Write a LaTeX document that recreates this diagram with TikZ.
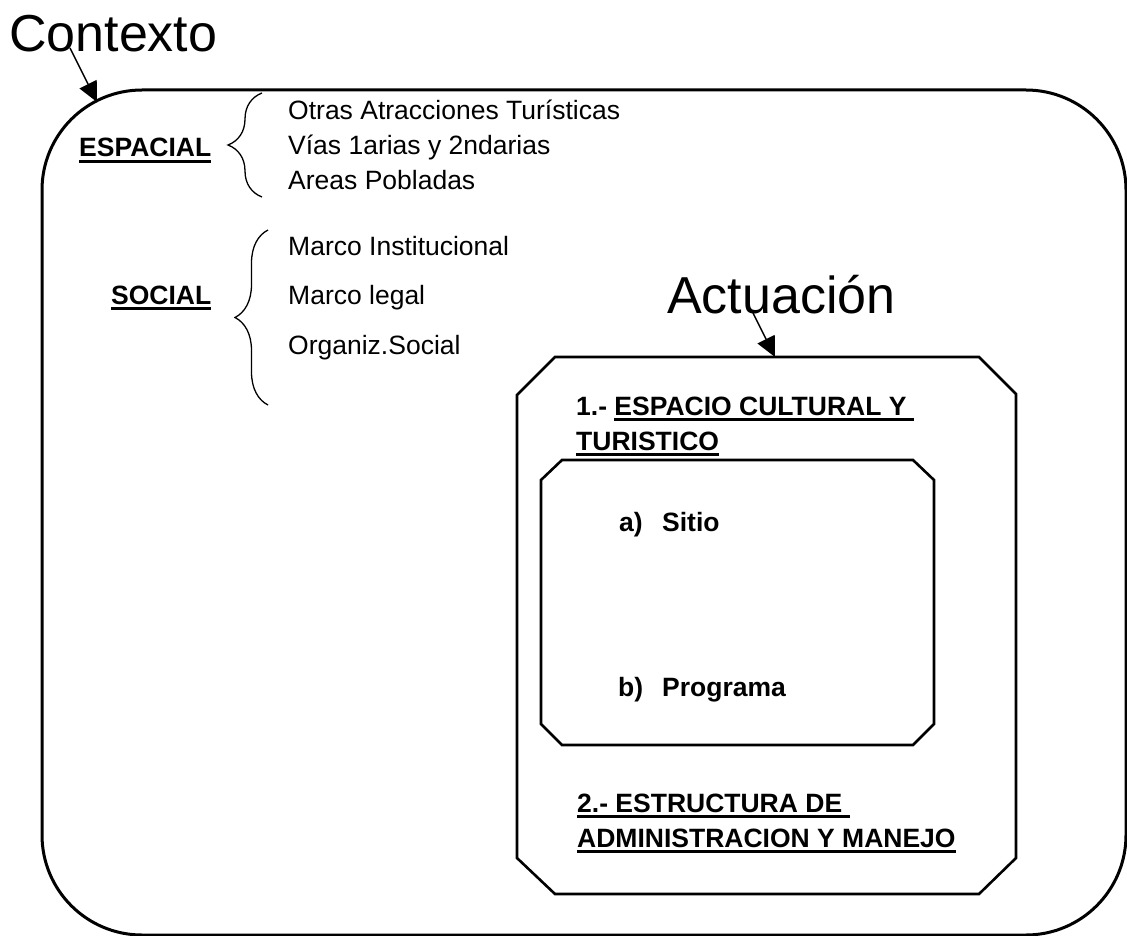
\documentclass[tikz,border=0pt]{standalone}
\usepackage{fontspec}
\setmainfont{Liberation Sans}
\usetikzlibrary{arrows.meta,decorations.pathreplacing}
\newcommand{\ulined}[1]{\leavevmode\vtop{\hbox{#1}\kern3pt\hrule height 2.6pt}}
\tikzset{
  big/.style={font=\fontsize{52}{60}\selectfont, inner sep=0pt, anchor=base west},
  txt/.style={font=\fontsize{26.5}{35}\selectfont, inner sep=0pt, anchor=base west},
  bld/.style={txt, font=\fontsize{26.5}{35}\selectfont\bfseries},
  ptr/.style={line width=1.5pt, -{Triangle[length=20pt,width=19pt]}},
  brc/.style={line width=1.3pt, decorate, decoration={brace, amplitude=#1}},
  brc/.default=34pt,
  octa/.style={line width=2.6pt, line join=miter}
}

\begin{document}
\begin{tikzpicture}[x=1pt,y=-1pt]
  \useasboundingbox (0,0) rectangle (1127,936);

  % Contexto
  \draw[line width=3pt, rounded corners=100pt] (42,90) rectangle (1126,935);
  \node[big] (ctx) at (9,52) {Contexto};
  \coordinate (ctxtail) at (70,48);
  \coordinate (ctxtip) at (97,102);
  \draw[ptr] (ctxtail) -- (ctxtip);

  % espacial
  \node[bld] (esp) at (79,157) {\ulined{ESPACIAL}};
  \coordinate (espbot) at (262,197);
  \coordinate (esptop) at (262,93);
  \draw[brc=34pt] (espbot) -- (esptop);
  \node[txt] (esp1) at (288,120) {Otras Atracciones Turísticas};
  \node[txt] (esp2) at (288,155) {Vías 1arias y 2ndarias};
  \node[txt] (esp3) at (288,190) {Areas Pobladas};

  % social
  \node[bld] (soc) at (111,304) {\ulined{SOCIAL}};
  \coordinate (socbot) at (268,405);
  \coordinate (soctop) at (268,230);
  \draw[brc=33pt] (socbot) -- (soctop);
  \node[txt] (soc1) at (288,255) {Marco Institucional};
  \node[txt] (soc2) at (288,304) {Marco legal};
  \node[txt] (soc3) at (288,354) {Organiz.Social};

  % Actuacion
  \node[big] (act) at (667,313) {Actuación};
  \coordinate (acttail) at (753,313);
  \coordinate (acttip) at (775,357);
  \draw[ptr] (acttail) -- (acttip);
  \draw[octa] (555,357) -- (979,357) -- (1016,394) -- (1016,858) -- (979,894)
    -- (555,894) -- (517,858) -- (517,395) -- cycle;
  \node[bld] (act1) at (576,415) {1.- \ulined{ESPACIO CULTURAL Y }};
  \node[bld] (act1b) at (576,450) {\ulined{TURISTICO}};

  % sitio / programa
  \draw[octa] (562,460) -- (913,460) -- (934,480) -- (934,724) -- (913,745)
    -- (562,745) -- (541,724) -- (541,480) -- cycle;
  \node[bld] (sitio) at (619,531) {\makebox[43pt][l]{a)}Sitio};
  \node[bld] (prog) at (618,696) {\makebox[44pt][l]{b)}Programa};

  \node[bld] (act2) at (577,812) {\ulined{2.- ESTRUCTURA DE }};
  \node[bld] (act2b) at (577,847) {\ulined{ADMINISTRACION Y MANEJO}};
\end{tikzpicture}
\end{document}
